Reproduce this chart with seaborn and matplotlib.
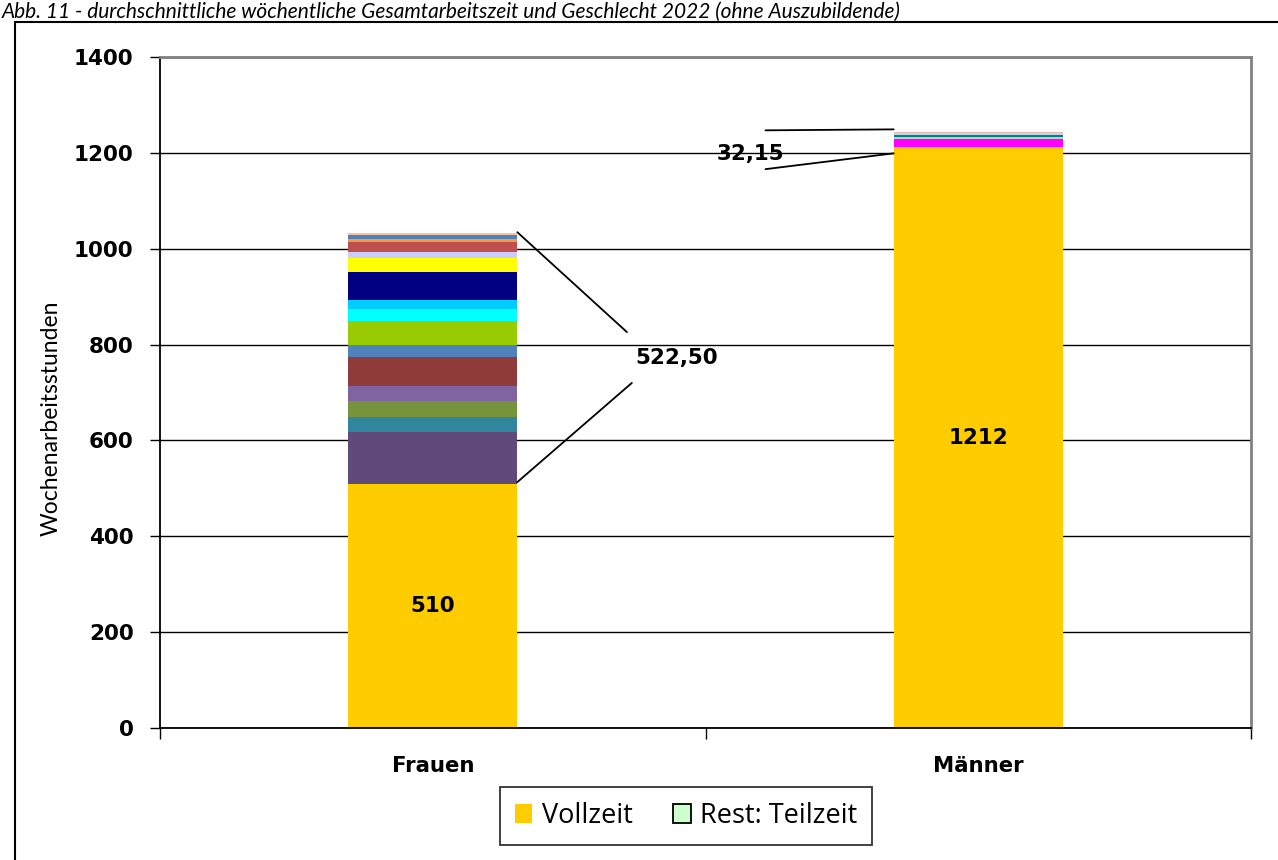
import numpy as np
import pandas as pd
import seaborn as sns
import matplotlib.pyplot as plt
from matplotlib.patches import Patch, Rectangle

sns.set_style('white')
plt.rcParams['font.family'] = ['DejaVu Sans']
plt.rcParams['text.color'] = 'black'
plt.rcParams['axes.labelcolor'] = 'black'
plt.rcParams['xtick.color'] = 'black'
plt.rcParams['ytick.color'] = 'black'

# data
categories = ['Frauen', 'Männer']
vollzeit = [510, 1212]
teilzeit_frauen = [107, 32, 32.5, 32, 61, 24.5, 50.5, 24.5, 19, 58, 30, 12.5, 21.5, 4.5, 8.5, 4.5]
teilzeit_maenner = [17.0, 3.5, 5.0, 3.0, 3.65]
vollzeit_color = '#FFCC00'
colors_frauen = ['#604A7B', '#31859C', '#77933C', '#8064A2', '#8E3B3A', '#4F81BD', '#99CC00', '#00FFFF',
                 '#00CCFF', '#000080', '#FFFF00', '#CCCCFF', '#C0504D', '#F79646', '#4F81BD', '#F2C4A8']
colors_maenner = ['#FF00FF', '#C8C8C8', '#008080', '#B7DEE8', '#E6B9B8']
legend_labels = ['Vollzeit', 'Rest: Teilzeit']
rest_color = '#CCFFCC'
title = 'Abb. 11 - durchschnittliche wöchentliche Gesamtarbeitszeit und Geschlecht 2022 (ohne Auszubildende)'

# long table of stacked segments, drawn as cumulative tops (tallest first)
rows = []
for cat, vz, parts, cols in [(categories[0], vollzeit[0], teilzeit_frauen, colors_frauen),
                             (categories[1], vollzeit[1], teilzeit_maenner, colors_maenner)]:
    vals = [vz] + parts
    cc = [vollzeit_color] + cols
    tops = np.cumsum(vals)
    for i, (t, c) in enumerate(zip(tops, cc)):
        rows.append({'gender': cat, 'seg': f'{cat}_{i:02d}', 'top': t, 'color': c})
df = pd.DataFrame(rows)
df = df.sort_values('top', ascending=False)
palette = dict(zip(df['seg'], df['color']))

fig = plt.figure(figsize=(12.78, 8.6), dpi=100)
ax = fig.add_axes([160/1278, 1-728/860, 1091/1278, 671/860])

sns.barplot(data=df, x='gender', y='top', hue='seg', hue_order=df['seg'].tolist(), order=categories,
            palette=palette, dodge=False, width=0.31, saturation=1, linewidth=0, errorbar=None,
            legend=False, ax=ax)

ax.set_xlim(-0.5, 1.5)
ax.set_ylim(0, 1400)
ax.set_yticks(range(0, 1401, 200))
ax.yaxis.grid(True, color='black', linewidth=1)
ax.set_axisbelow(True)
for s in ['left', 'bottom']:
    ax.spines[s].set_color('black')
    ax.spines[s].set_linewidth(1.3)
for s in ['top', 'right']:
    ax.spines[s].set_color('#808080')
    ax.spines[s].set_linewidth(2)

ax.tick_params(axis='y', direction='out', length=7, width=1, left=True, pad=12, labelsize=15.5)
for lab in ax.get_yticklabels():
    lab.set_fontweight('bold')
ax.tick_params(axis='x', which='major', length=0, pad=20, labelsize=15.3)
for lab in ax.get_xticklabels():
    lab.set_fontweight('bold')
ax.set_xticks([-0.5, 0.5, 1.5], minor=True)
ax.tick_params(axis='x', which='minor', direction='out', length=8, width=1, bottom=True)

ax.set_xlabel('')
ax.set_ylabel('Wochenarbeitsstunden', fontsize=16.5, family=['Lato', 'DejaVu Sans'])
ax.yaxis.set_label_coords(-0.0898, 0.462)

# value labels in the Vollzeit segments
for i, v in enumerate(vollzeit):
    ax.text(i, v / 2, f'{v}', ha='center', va='center', fontsize=15.4, fontweight='bold')

# leader lines and sums of the part-time segments
rest_f = sum(teilzeit_frauen)
rest_m = sum(teilzeit_maenner)
ax.plot([0.155, 0.356], [vollzeit[0] + rest_f + 2, 826], color='black', lw=1.3)
ax.plot([0.155, 0.365], [vollzeit[0] + 3, 720], color='black', lw=1.3)
ax.text(0.448, 772, f'{rest_f:.2f}'.replace('.', ','), ha='center', va='center', fontsize=15.4, fontweight='bold')
ax.plot([0.845, 0.61], [1249, 1247], color='black', lw=1.3)
ax.plot([0.845, 0.61], [1199, 1166], color='black', lw=1.3)
ax.text(0.583, 1198, f'{rest_m:.2f}'.replace('.', ','), ha='center', va='center', fontsize=15.4, fontweight='bold')

# legend
handles = [Patch(facecolor=vollzeit_color, edgecolor='none'),
           Patch(facecolor=rest_color, edgecolor='black', linewidth=1.3)]
leg = fig.legend(handles, legend_labels, loc='center', bbox_to_anchor=(686/1278, 1-816/860), ncol=2,
                 frameon=True, fancybox=False, edgecolor='black', handlelength=0.65,
                 handleheight=0.65, handletextpad=0.35, columnspacing=1.5, borderpad=0.55,
                 borderaxespad=0, prop={'family': ['Open Sans', 'DejaVu Sans'], 'size': 19.5})
leg.get_frame().set_linewidth(1.3)

# outer frame and caption
fig.patches.append(Rectangle((15/1278, -0.05), 1.2, 1-22/860+0.05, transform=fig.transFigure,
                             fill=False, edgecolor='black', linewidth=1.5))
cap = fig.text(2/1278, 1-2/860, title, ha='left', va='top', fontsize=13, style='italic',
               family=['Lato', 'DejaVu Sans'])
fig.canvas.draw()
w = cap.get_window_extent().width
cap.set_fontsize(min(15, 13 * 1060 / w))

fig.savefig('out.png', dpi=100)
